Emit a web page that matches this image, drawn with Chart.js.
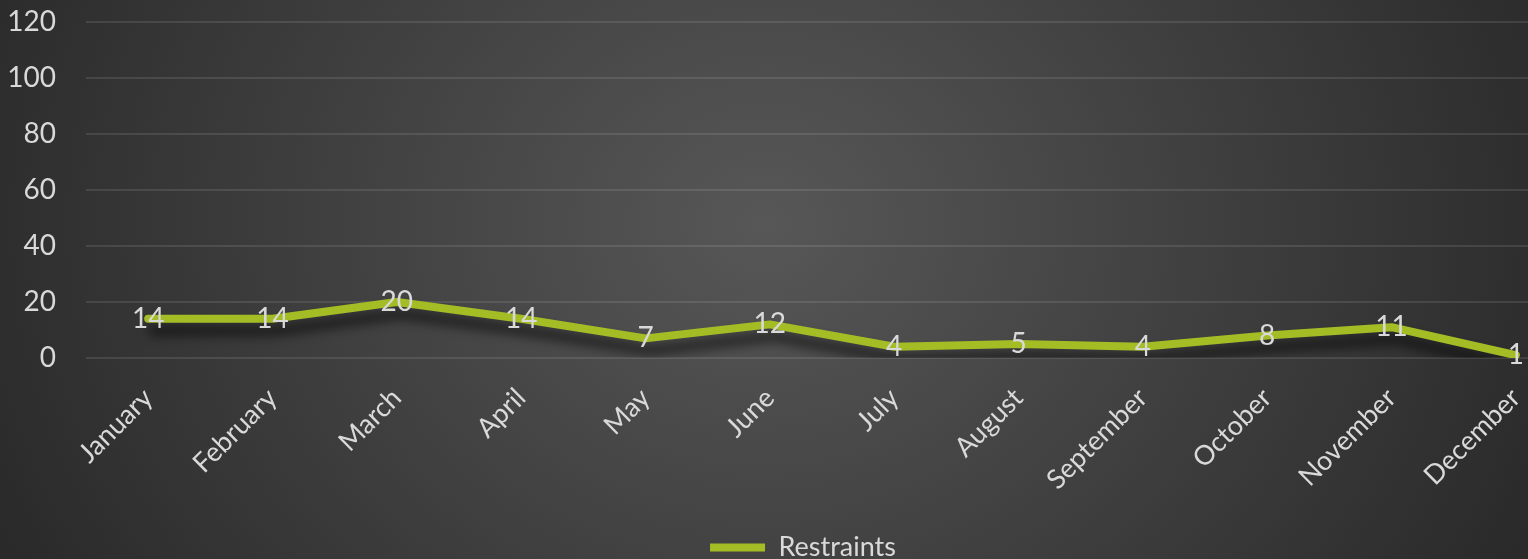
<!DOCTYPE html>
<html>
<head>
<meta charset="utf-8">
<script src="https://cdn.jsdelivr.net/npm/chart.js@4/dist/chart.umd.min.js"></script>
<style>
  html, body { margin: 0; padding: 0; width: 1528px; height: 559px; overflow: hidden; }
  body { background: radial-gradient(ellipse 840px 730px at 50% 40%, #575757 0%, #2a2a2a 100%); }
  #wrap { position: absolute; left: 0; top: 0; width: 1606px; height: 559px; }
</style>
</head>
<body>
<div id="wrap"><canvas id="chart" width="1606" height="559"></canvas></div>
<script>
// chart data
const months = ['January', 'February', 'March', 'April', 'May', 'June',
  'July', 'August', 'September', 'October', 'November', 'December'];
const restraints = [14, 14, 20, 14, 7, 12, 4, 5, 4, 8, 11, 1];
const yTicks = [0, 20, 40, 60, 80, 100, 120];

const textColor = '#d9d9d9';
const lineColor = '#a5bd25';
const fontFamily = 'Lato, "Open Sans", sans-serif';

// soft shadow under the line
const lineShadow = {
  id: 'lineShadow',
  beforeDatasetDraw(chart) {
    const ctx = chart.ctx;
    ctx.save();
    ctx.shadowColor = 'rgba(0,0,0,0.7)';
    ctx.shadowBlur = 12;
    ctx.shadowOffsetX = 4;
    ctx.shadowOffsetY = 12;
  },
  afterDatasetDraw(chart) {
    chart.ctx.restore();
  }
};

// value labels centred on each point
const valueLabels = {
  id: 'valueLabels',
  afterDatasetsDraw(chart) {
    const ctx = chart.ctx;
    const meta = chart.getDatasetMeta(0);
    ctx.save();
    ctx.font = '28px ' + fontFamily;
    ctx.fillStyle = textColor;
    ctx.textAlign = 'center';
    ctx.textBaseline = 'middle';
    meta.data.forEach((pt, i) => {
      ctx.fillText(String(chart.data.datasets[0].data[i]), pt.x, pt.y);
    });
    ctx.restore();
  }
};

// the legend sits a little right of the canvas centre in the original
const legendNudge = {
  id: 'legendNudge',
  afterLayout(chart) {
    chart.legend.left += 14;
    chart.legend.right += 14;
  }
};

new Chart(document.getElementById('chart'), {
  type: 'line',
  data: {
    labels: months,
    datasets: [{
      label: 'Restraints',
      data: restraints,
      borderColor: lineColor,
      backgroundColor: lineColor,
      borderWidth: 8,
      borderCapStyle: 'round',
      borderJoinStyle: 'round',
      tension: 0,
      pointRadius: 0,
      pointHoverRadius: 0
    }]
  },
  options: {
    responsive: false,
    animation: false,
    layout: { padding: { top: 22, right: 28, bottom: -12, left: 0 } },
    scales: {
      x: {
        offset: true,
        grid: { display: false },
        border: { display: false },
        ticks: {
          color: textColor,
          font: { family: fontFamily, size: 27 },
          maxRotation: 45,
          minRotation: 45,
          padding: 16,
          autoSkip: false
        },
        afterFit(scale) { scale.height = 170; }
      },
      y: {
        min: 0,
        max: 120,
        afterBuildTicks(scale) { scale.ticks = yTicks.map(v => ({ value: v })); },
        grid: { color: 'rgba(255,255,255,0.1)', lineWidth: 2, drawTicks: false },
        border: { display: false },
        ticks: {
          color: textColor,
          font: { family: fontFamily, size: 28 },
          padding: 30
        },
        afterFit(scale) {
          scale.width = 86;
          scale.paddingTop = 0;
          scale.paddingBottom = 0;
        }
      }
    },
    plugins: {
      legend: {
        position: 'bottom',
        labels: {
          color: textColor,
          font: { family: fontFamily, size: 27 },
          usePointStyle: true,
          pointStyle: 'line',
          pointStyleWidth: 55,
          boxHeight: 8,
          padding: 6
        }
      },
      tooltip: { enabled: false }
    }
  },
  plugins: [lineShadow, valueLabels, legendNudge]
});
</script>
</body>
</html>
